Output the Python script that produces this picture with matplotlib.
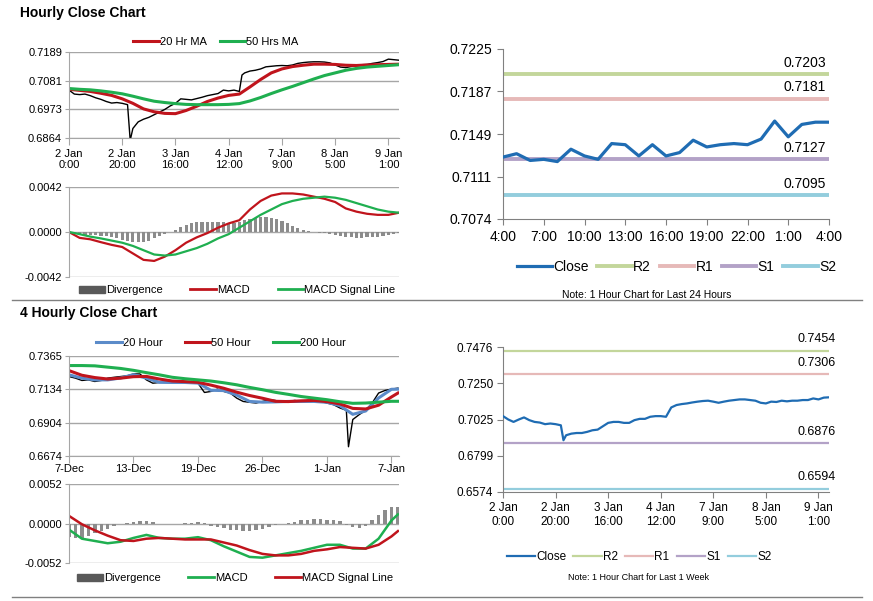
import numpy as np
import matplotlib
matplotlib.use("Agg")
import matplotlib.pyplot as plt
from matplotlib.lines import Line2D
from matplotlib.patches import Patch

plt.rcParams['font.family'] = ['Liberation Sans', 'DejaVu Sans']

# ---------------- data: hourly chart (top-left) ----------------
hourly_ticks = ["2 Jan\n0:00", "2 Jan\n20:00", "3 Jan\n16:00", "4 Jan\n12:00",
                "7 Jan\n9:00", "8 Jan\n5:00", "9 Jan\n1:00"]

h_close_x = [0, 2, 4, 6, 8, 10, 12, 14, 16, 18, 20, 22, 23, 24, 26, 28, 30, 32, 34, 36,
             38, 40, 42, 44, 46, 48, 50, 52, 54, 56, 58, 60, 62, 64, 65, 66, 68, 70, 72, 74,
             76, 78, 80, 82, 84, 86, 88, 90, 92, 94, 96, 98, 100, 102, 104, 106, 108, 110,
             112, 114, 116, 118, 120, 122, 124]
h_close = [0.7045, 0.7030, 0.7028, 0.7030, 0.7024, 0.7016, 0.7010, 0.7002, 0.6996, 0.6998,
           0.6995, 0.6990, 0.6855, 0.6900, 0.6925, 0.6935, 0.6942, 0.6952, 0.6962, 0.6972,
           0.6985, 0.6995, 0.7012, 0.7010, 0.7008, 0.7013, 0.7018, 0.7024, 0.7028, 0.7032,
           0.7045, 0.7042, 0.7045, 0.7040, 0.7102, 0.7110, 0.7117, 0.7120, 0.7125, 0.7133,
           0.7135, 0.7137, 0.7138, 0.7137, 0.7140, 0.7146, 0.7149, 0.7151, 0.7152, 0.7152,
           0.7151, 0.7148, 0.7140, 0.7132, 0.7130, 0.7134, 0.7137, 0.7141, 0.7142, 0.7146,
           0.7149, 0.7153, 0.7162, 0.7160, 0.7158]

h_ma_x = [0, 4, 8, 12, 16, 20, 24, 28, 32, 36, 40, 44, 48, 52, 56, 60, 64, 68, 72, 76,
          80, 84, 88, 92, 96, 100, 104, 108, 112, 116, 120, 124]
ma20 = [0.7048, 0.7044, 0.7040, 0.7033, 0.7025, 0.7012, 0.6995, 0.6974, 0.6963, 0.6957,
        0.6956, 0.6968, 0.6984, 0.7002, 0.7015, 0.7025, 0.7030, 0.7057, 0.7085, 0.7110,
        0.7125, 0.7134, 0.7139, 0.7143, 0.7143, 0.7142, 0.7139, 0.7138, 0.7140, 0.7141,
        0.7142, 0.7143]
ma50 = [0.7051, 0.7048, 0.7046, 0.7042, 0.7037, 0.7031, 0.7022, 0.7012, 0.7003, 0.6998,
        0.6994, 0.6991, 0.6990, 0.6990, 0.6990, 0.6991, 0.6994, 0.7004, 0.7017, 0.7032,
        0.7046, 0.7059, 0.7073, 0.7087, 0.7100, 0.7110, 0.7120, 0.7127, 0.7132, 0.7135,
        0.7138, 0.7141]
h_macd = [0.0000, -0.00055, -0.00068, -0.00095, -0.0012, -0.0014, -0.0020, -0.0026,
          -0.0027, -0.0023, -0.0017, -0.0010, -0.0005, -0.0001, 0.0004, 0.0008, 0.0011,
          0.0021, 0.0029, 0.0034, 0.0036, 0.0036, 0.0035, 0.0033, 0.0031, 0.0028, 0.0022,
          0.0019, 0.0017, 0.0016, 0.0016, 0.0018]
h_signal = [0.0000, -0.0002, -0.00043, -0.0006, -0.0008, -0.0010, -0.0013, -0.0017,
            -0.0021, -0.0022, -0.0021, -0.0018, -0.0015, -0.0011, -0.0006, -0.0002, 0.0004,
            0.0010, 0.0016, 0.0021, 0.0026, 0.0029, 0.0031, 0.0032, 0.0033, 0.0032, 0.0030,
            0.0027, 0.0024, 0.0021, 0.0019, 0.0018]
h_div_x = list(range(0, 125, 2))
h_div = [0, -0.0001, -0.0002, -0.0003, -0.0003, -0.0003, -0.0004, -0.0004, -0.0005, -0.0006,
         -0.0007, -0.0008, -0.0009, -0.0009, -0.0009, -0.0008, -0.0006, -0.0004, -0.0002, 0.0000,
         0.0002, 0.0005, 0.0007, 0.0008, 0.0009, 0.0009, 0.0009, 0.0009, 0.0009, 0.0009,
         0.0008, 0.0008, 0.0009, 0.0011, 0.0012, 0.0013, 0.0014, 0.0014, 0.0013, 0.0012,
         0.0010, 0.0008, 0.0006, 0.0004, 0.0002, 0.0001, 0.0000, -0.0001, -0.0001, -0.0002,
         -0.0003, -0.0004, -0.0005, -0.0005, -0.0006, -0.0006, -0.0005, -0.0005, -0.0005,
         -0.0004, -0.0003, -0.0002, -0.0001]

# ---------------- data: last 24 hours (top-right) ----------------
day_hours = ["4:00", "5:00", "6:00", "7:00", "8:00", "9:00", "10:00", "11:00", "12:00",
             "13:00", "14:00", "15:00", "16:00", "17:00", "18:00", "19:00", "20:00", "21:00",
             "22:00", "23:00", "0:00", "1:00", "2:00", "3:00", "4:00"]
day_close = [0.7129, 0.7132, 0.7126, 0.7127, 0.7125, 0.7136, 0.7130, 0.7127, 0.7141, 0.7140,
             0.7130, 0.7140, 0.7130, 0.7133, 0.7144, 0.7138, 0.7140, 0.7141, 0.7140, 0.7145,
             0.7161, 0.7147, 0.7158, 0.7160, 0.7160]
day_levels = {"R2": 0.7203, "R1": 0.7181, "S1": 0.7127, "S2": 0.7095}

# ---------------- data: 4 hourly chart (bottom-left) ----------------
four_ticks = ["7-Dec", "13-Dec", "19-Dec", "26-Dec", "1-Jan", "7-Jan"]
f_close_x = [0, 3, 6, 9, 12, 15, 18, 21, 24, 27, 30, 33, 36, 39, 42, 45, 48, 51, 54, 57,
             60, 63, 66, 69, 72, 75, 78, 81, 84, 87, 90, 93, 96, 99, 102, 105, 108, 111, 114,
             117, 120, 123, 126, 129, 130, 132, 135, 138, 141, 144, 147, 150, 153]
f_close = [0.7223, 0.7212, 0.7196, 0.7200, 0.7189, 0.7196, 0.7212, 0.7218, 0.7223, 0.7228,
           0.7241, 0.7241, 0.7200, 0.7177, 0.7182, 0.7189, 0.7189, 0.7189, 0.7182, 0.7189,
           0.7177, 0.7113, 0.7120, 0.7136, 0.7120, 0.7109, 0.7074, 0.7051, 0.7045, 0.7040,
           0.7051, 0.7063, 0.7058, 0.7045, 0.7051, 0.7058, 0.7051, 0.7058, 0.7051, 0.7051,
           0.7040, 0.7029, 0.7006, 0.6990, 0.6738, 0.6926, 0.6960, 0.6990, 0.7040, 0.7109,
           0.7127, 0.7136, 0.7143]
f_ma_x = [0, 6, 12, 18, 24, 30, 36, 42, 48, 54, 60, 66, 72, 78, 84, 90, 96, 102, 108, 114,
          120, 126, 132, 138, 144, 150, 153]
ma20h = [0.7235, 0.7212, 0.7200, 0.7200, 0.7213, 0.7236, 0.7212, 0.7183, 0.7182, 0.7182,
         0.7178, 0.7128, 0.7126, 0.7095, 0.7051, 0.7046, 0.7048, 0.7051, 0.7051, 0.7051,
         0.7045, 0.7022, 0.6962, 0.6985, 0.7075, 0.7135, 0.7136]
ma50h = [0.7264, 0.7232, 0.7216, 0.7206, 0.7212, 0.7222, 0.7224, 0.7206, 0.7192, 0.7188,
         0.7183, 0.7164, 0.7142, 0.7115, 0.7092, 0.7073, 0.7052, 0.7050, 0.7055, 0.7058,
         0.7050, 0.7034, 0.7003, 0.6999, 0.7025, 0.7082, 0.7109]
ma200h = [0.7299, 0.7299, 0.7297, 0.7288, 0.7279, 0.7266, 0.7250, 0.7235, 0.7218, 0.7208,
          0.7200, 0.7192, 0.7180, 0.7166, 0.7148, 0.7132, 0.7114, 0.7100, 0.7085, 0.7074,
          0.7063, 0.7049, 0.7038, 0.7040, 0.7046, 0.7052, 0.7052]
f_macd = [-0.0008, -0.0020, -0.0023, -0.0026, -0.0024, -0.0019, -0.0015, -0.0019, -0.0020,
          -0.0020, -0.0018, -0.0022, -0.0030, -0.0037, -0.0044, -0.0045, -0.0042, -0.0039,
          -0.0036, -0.0032, -0.0028, -0.0028, -0.0033, -0.0033, -0.0020, 0.0004, 0.0012]
f_signal = [0.0010, -0.0001, -0.0009, -0.0016, -0.0022, -0.0023, -0.0020, -0.0019, -0.0020,
            -0.0021, -0.0021, -0.0021, -0.0025, -0.0029, -0.0035, -0.0040, -0.0042, -0.0042,
            -0.0040, -0.0036, -0.0034, -0.0031, -0.0032, -0.0033, -0.0028, -0.0017, -0.0010]
f_div_x = list(range(0, 154, 3))
f_div = [-0.0018, -0.0019, -0.0019, -0.0016, -0.0013, -0.0010, -0.0007, -0.0003, 0.0000,
         0.0001, 0.0002, 0.0003, 0.0003, 0.0002, 0.0000, -0.0001, -0.0001, 0.0000, 0.0001,
         0.0001, 0.0002, 0.0001, -0.0003, -0.0005, -0.0006, -0.0008, -0.0009, -0.0010,
         -0.0010, -0.0009, -0.0007, -0.0004, -0.0002, 0.0000, 0.0001, 0.0002, 0.0004, 0.0005,
         0.0006, 0.0006, 0.0005, 0.0005, 0.0003, -0.0002, -0.0005, -0.0006, -0.0003, 0.0004,
         0.0011, 0.0018, 0.0022, 0.0022]

# ---------------- data: last week hourly (bottom-right) ----------------
w_close_x = [0, 2, 4, 6, 8, 10, 12, 14, 16, 18, 20, 22, 23, 24, 26, 28, 30, 32, 34, 36, 38,
             40, 42, 44, 46, 48, 50, 52, 54, 56, 58, 60, 62, 64, 66, 68, 70, 72, 74, 76, 78,
             80, 82, 84, 86, 88, 90, 92, 94, 96, 98, 100, 102, 104, 106, 108, 110, 112, 114,
             116, 118, 120, 122, 124]
w_close = [0.7046, 0.7025, 0.7010, 0.7025, 0.7038, 0.7021, 0.7010, 0.7006, 0.6996, 0.7000,
           0.6996, 0.6989, 0.6896, 0.6927, 0.6937, 0.6941, 0.6941, 0.6948, 0.6958, 0.6962,
           0.6983, 0.7004, 0.7010, 0.7010, 0.7004, 0.7004, 0.7021, 0.7029, 0.7029, 0.7042,
           0.7046, 0.7046, 0.7042, 0.7100, 0.7115, 0.7121, 0.7125, 0.7131, 0.7136, 0.7140,
           0.7142, 0.7136, 0.7129, 0.7136, 0.7142, 0.7146, 0.7150, 0.7150, 0.7146, 0.7142,
           0.7129, 0.7125, 0.7136, 0.7134, 0.7142, 0.7138, 0.7142, 0.7142, 0.7146, 0.7146,
           0.7156, 0.7150, 0.7161, 0.7163]
week_levels = {"R2": 0.7454, "R1": 0.7306, "S1": 0.6876, "S2": 0.6594}

RED = '#C0141C'
GREEN = '#1FAF50'
BLUE20 = '#5B8BC9'
GRID = '#A6A6A6'
DIVC = '#8C8C8C'
level_colors = {"Close": '#1F6CB3', "R2": '#C3D69B', "R1": '#E6B9B8',
                "S1": '#B3A2C7', "S2": '#93CDDD'}

fig = plt.figure(figsize=(8.73, 6.01), dpi=100)
W, H = 873, 601


def add_axes(x0, y0, x1, y1):
    return fig.add_axes([x0 / W, 1 - y1 / H, (x1 - x0) / W, (y1 - y0) / H])


def style_left(ax, yticks, ylabels, xticks=None, xlabels=None):
    ax.set_yticks(yticks)
    ax.set_yticklabels(ylabels, fontsize=8)
    ax.yaxis.grid(True, color=GRID, lw=1)
    ax.set_axisbelow(True)
    for s in ['top', 'right']:
        ax.spines[s].set_visible(False)
    ax.spines['left'].set_color(GRID)
    ax.spines['bottom'].set_color(GRID)
    ax.tick_params(axis='y', length=3, color=GRID, pad=2)
    if xticks is not None:
        ax.set_xticks(xticks)
        ax.set_xticklabels(xlabels, fontsize=8, linespacing=1.1)
        ax.tick_params(axis='x', length=5, color=GRID, pad=3)
    else:
        ax.spines['bottom'].set_visible(False)
        ax.set_xticks([])


# ---------- titles and separators ----------
fig.text(20 / W, 1 - 13 / H, "Hourly Close Chart", fontsize=10, fontweight='bold', va='center')
fig.text(20 / W, 1 - 313 / H, "4 Hourly Close Chart", fontsize=10, fontweight='bold', va='center')
fig.add_artist(Line2D([12 / W, 862 / W], [1 - 300 / H, 1 - 300 / H], color='#808080', lw=1))
fig.add_artist(Line2D([12 / W, 862 / W], [1 - 597 / H, 1 - 597 / H], color='#808080', lw=1))

# ---------- top-left price ----------
ax1 = add_axes(69, 52, 399, 138)
ax1.plot(h_close_x, h_close, color='black', lw=1.0)
ax1.plot(h_ma_x, ma20, color=RED, lw=2.2, label='20 Hr MA')
ax1.plot(h_ma_x, ma50, color=GREEN, lw=2.2, label='50 Hrs MA')
ax1.set_xlim(0, 124)
ax1.set_ylim(0.6864, 0.7189)
style_left(ax1, np.linspace(0.6864, 0.7189, 4), ["0.6864", "0.6973", "0.7081", "0.7189"],
           [0, 20, 40, 60, 80, 100, 120], hourly_ticks)
ax1.legend(loc='center', bbox_to_anchor=(0.445, 1.116), ncol=2, frameon=False, fontsize=8,
           handlelength=2.3, handletextpad=0.1, columnspacing=1.2)

# ---------- top-left MACD ----------
ax2 = add_axes(69, 187, 399, 277)
ax2.bar(h_div_x, h_div, width=1.2, color=DIVC, label='Divergence')
ax2.plot(h_ma_x, h_macd, color=RED, lw=1.6, label='MACD')
ax2.plot(h_ma_x, h_signal, color=GREEN, lw=1.6, label='MACD Signal Line')
ax2.set_xlim(0, 124)
ax2.set_ylim(-0.0042, 0.0042)
style_left(ax2, [-0.0042, 0.0, 0.0042], ["-0.0042", "0.0000", "0.0042"])
ax2.legend(handles=[Patch(color='#595959', label='Divergence'),
                    Line2D([], [], color=RED, lw=2, label='MACD'),
                    Line2D([], [], color=GREEN, lw=2, label='MACD Signal Line')],
           loc='center', bbox_to_anchor=(0.51, -0.144), ncol=3, frameon=False, fontsize=8,
           handlelength=2.3, handleheight=0.6, handletextpad=0.1, columnspacing=2.5)

# ---------- top-right 24 hours ----------
ax3 = add_axes(503, 49, 829, 219)
xs = np.arange(len(day_close))
ax3.plot(xs, day_close, color=level_colors["Close"], lw=2.3, label='Close', zorder=3)
for name, val in day_levels.items():
    ax3.plot([xs[0], xs[-1]], [val, val], color=level_colors[name], lw=2.8, label=name)
    ax3.annotate(f"{val:.4f}", xy=(xs[-1], val), xytext=(-2, 3), textcoords='offset points',
                 ha='right', va='bottom', fontsize=10)
ax3.set_xlim(0, 24)
ax3.set_ylim(0.7074, 0.7225)
ax3.set_yticks(np.linspace(0.7074, 0.7225, 5))
ax3.set_yticklabels(["0.7074", "0.7111", "0.7149", "0.7187", "0.7225"], fontsize=10)
ax3.set_xticks(xs[::3])
ax3.set_xticklabels(day_hours[::3], fontsize=10)
for s in ['top', 'right']:
    ax3.spines[s].set_visible(False)
ax3.spines['left'].set_color('#808080')
ax3.spines['bottom'].set_color('#808080')
ax3.tick_params(length=4, color='#808080', pad=4)
ax3.legend(loc='center', bbox_to_anchor=(0.533, -0.282), ncol=5, frameon=False, fontsize=10,
           handlelength=2.5, handletextpad=0.1, columnspacing=0.6)
fig.text(647 / W, 1 - 295 / H, "Note: 1 Hour Chart for Last 24 Hours", fontsize=7.5,
         ha='center', va='center')

# ---------- bottom-left price ----------
ax4 = add_axes(69, 356, 399, 456)
ax4.plot(f_close_x, f_close, color='black', lw=1.0)
ax4.plot(f_ma_x, ma20h, color=BLUE20, lw=2.2, label='20 Hour')
ax4.plot(f_ma_x, ma50h, color=RED, lw=2.2, label='50 Hour')
ax4.plot(f_ma_x, ma200h, color=GREEN, lw=2.2, label='200 Hour')
ax4.set_xlim(0, 153.5)
ax4.set_ylim(0.6674, 0.7365)
style_left(ax4, np.linspace(0.6674, 0.7365, 4), ["0.6674", "0.6904", "0.7134", "0.7365"],
           [0, 30, 60, 90, 120, 150], four_ticks)
ax4.tick_params(axis='x', pad=1)
ax4.legend(loc='center', bbox_to_anchor=(0.46, 1.13), ncol=3, frameon=False, fontsize=8,
           handlelength=2.3, handletextpad=0.1, columnspacing=2.0)

# ---------- bottom-left MACD ----------
ax5 = add_axes(69, 484, 399, 563)
ax5.bar(f_div_x, f_div, width=1.6, color=DIVC)
ax5.plot(f_ma_x, f_macd, color=GREEN, lw=1.8)
ax5.plot(f_ma_x, f_signal, color=RED, lw=1.8)
ax5.set_xlim(0, 153.5)
ax5.set_ylim(-0.0052, 0.0052)
style_left(ax5, [-0.0052, 0.0, 0.0052], ["-0.0052", "0.0000", "0.0052"])
ax5.legend(handles=[Patch(color='#595959', label='Divergence'),
                    Line2D([], [], color=GREEN, lw=2, label='MACD'),
                    Line2D([], [], color=RED, lw=2, label='MACD Signal Line')],
           loc='center', bbox_to_anchor=(0.503, -0.19), ncol=3, frameon=False, fontsize=8,
           handlelength=2.3, handleheight=0.6, handletextpad=0.1, columnspacing=2.5)

# ---------- bottom-right last week ----------
ax6 = add_axes(503, 347, 829, 492)
ax6.plot(w_close_x, w_close, color=level_colors["Close"], lw=1.6, label='Close', zorder=3)
for name, val in week_levels.items():
    ax6.plot([0, 124], [val, val], color=level_colors[name], lw=1.6, label=name)
    ax6.annotate(f"{val:.4f}", xy=(124, val), xytext=(5, 4), textcoords='offset points',
                 ha='right', va='bottom', fontsize=9)
ax6.set_xlim(0, 124)
ax6.set_ylim(0.6574, 0.7476)
ax6.set_yticks(np.linspace(0.6574, 0.7476, 5))
ax6.set_yticklabels(["0.6574", "0.6799", "0.7025", "0.7250", "0.7476"], fontsize=8.5)
ax6.set_xticks([0, 20, 40, 60, 80, 100, 120])
ax6.set_xticklabels(hourly_ticks, fontsize=8.5, linespacing=1.2)
for s in ['top', 'right']:
    ax6.spines[s].set_visible(False)
ax6.spines['left'].set_color('#808080')
ax6.spines['bottom'].set_color('#808080')
ax6.tick_params(length=4, color='#808080', pad=3)
ax6.legend(loc='center', bbox_to_anchor=(0.417, -0.448), ncol=5, frameon=False, fontsize=8.5,
           handlelength=2.4, handletextpad=0.1, columnspacing=0.6)
fig.text(639 / W, 1 - 578 / H, "Note: 1 Hour Chart for Last 1 Week", fontsize=6.5,
         ha='center', va='center')

fig.savefig("out.png", dpi=100)
